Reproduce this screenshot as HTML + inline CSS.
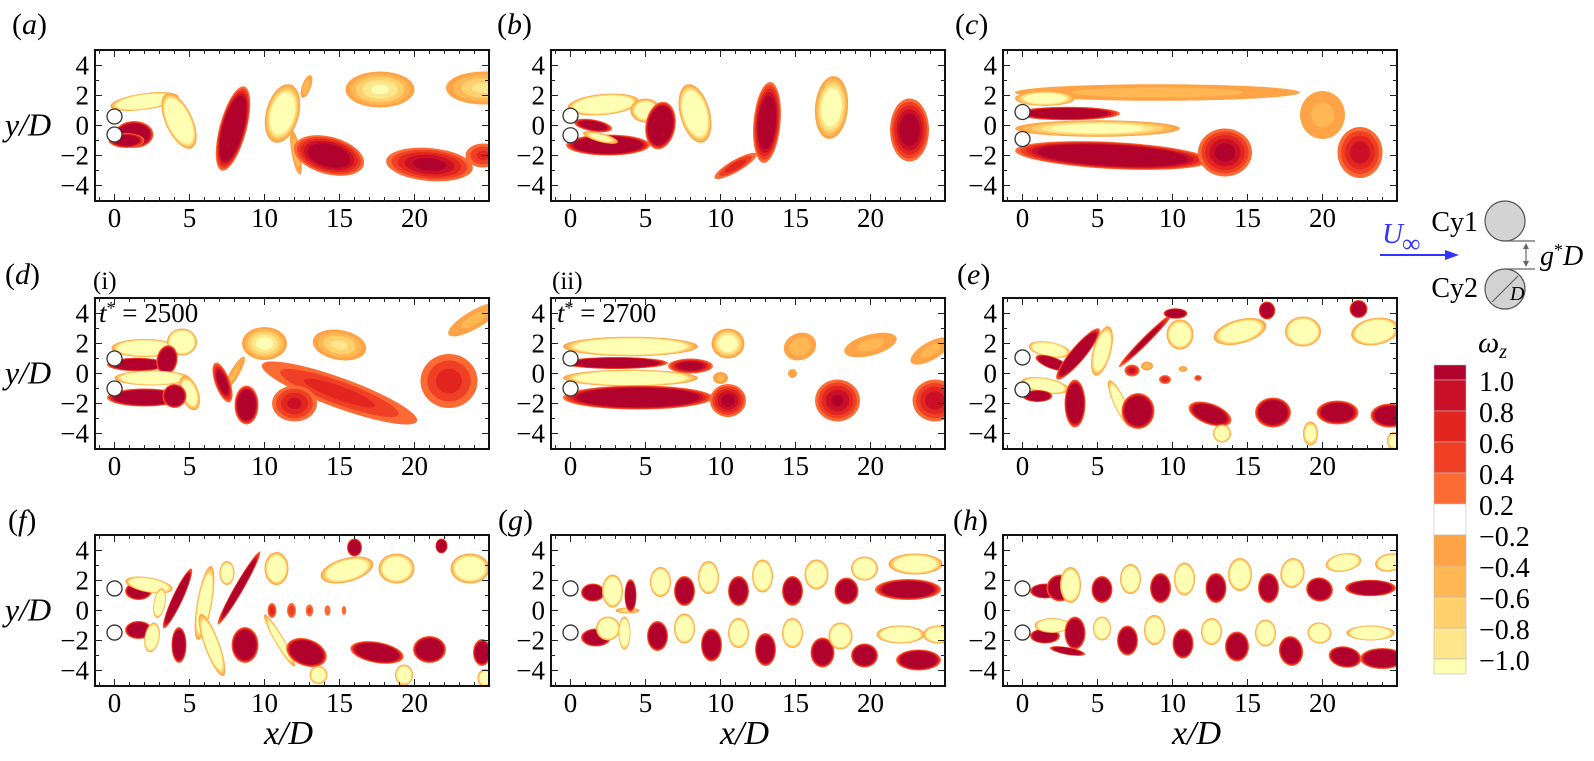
<!DOCTYPE html>
<html><head><meta charset="utf-8"><style>
html,body{margin:0;padding:0;background:#fff;}
svg, svg text{font-family:"Liberation Serif","DejaVu Serif",serif;}
</style></head><body>
<svg id="fig" width="1594" height="756" viewBox="0 0 1594 756" font-family="Liberation Serif, DejaVu Serif, serif" xmlns="http://www.w3.org/2000/svg"></svg>
<script>
// ---- data: vortices [x/D, y/D, rx, ry, angleDeg, peak vorticity] ----
const vortA=[[2.0,1.6,2.3,0.55,8,-3],[4.3,0.3,0.9,2.0,25,-3],[1.3,-0.6,1.3,0.9,0,3],[0.8,-1.0,1.2,0.5,0,2],
[7.9,-0.2,0.9,2.9,-15,2.5],[11.2,0.8,1.1,2.0,-15,-2],[12.1,-1.8,0.3,1.5,10,-0.6],[12.8,2.6,0.3,0.8,-20,-0.6],
[14.3,-2.0,2.4,1.25,-15,1.6],[21,-2.6,2.9,1.1,-5,1.2],[24.6,-2.0,1.2,0.8,0,0.7],[17.7,2.4,2.3,1.2,0,-1.1],[24.6,2.5,2.5,1.1,0,-0.9]];
const vortB=[[2.2,1.4,2.4,0.7,5,-3],[5,1.0,1.0,0.8,0,-2],[8.3,0.8,1.0,2.0,15,-2.5],[2.5,-1.3,2.8,0.7,0,3],
[6,0,1.0,1.6,-10,3],[1.5,0,1.3,0.4,-10,2],[2,-0.8,1.2,0.3,-15,-1.5],[13.1,0.2,0.9,2.7,-5,1.8],[11,-2.7,1.6,0.4,30,0.8],
[17.4,1.2,1.1,2.1,-5,-1.6],[22.6,-0.3,1.3,2.1,0,1.4]];
const vortC=[[9,2.2,9.5,0.55,0,-0.55],[20,0.7,1.5,1.6,0,-0.5],[1.5,1.8,2,0.5,0,-2],[3,0.8,3.5,0.45,0,2.5],
[5,-0.2,5.5,0.55,0,-1.5],[6,-2.0,6.5,0.9,-3,2.5],[13.5,-1.8,1.8,1.6,0,1.2],[22.5,-1.8,1.5,1.7,0,1.0]];
const vortDi=[[2,1.7,2.2,0.6,0,-3],[4.5,2.1,1.0,0.9,0,-3],[1.5,0.6,2.0,0.45,0,3],[3.5,0.9,0.7,1.0,-10,3],
[2.5,-0.3,2.5,0.5,0,-3],[5,-1.3,0.6,1.2,20,-2],[2,-1.6,2.5,0.6,0,3],[4,-1.5,0.8,0.8,0,3],
[10,2.0,1.5,1.1,0,-1.2],[8,0,0.3,1.3,-30,-0.5],[15,1.9,1.8,1.0,-10,-0.9],[7.2,-0.6,0.5,1.4,20,1.5],
[15,-1.3,5.5,1.0,-20,0.75],[12,-2,1.5,1.2,0,0.9],[8.8,-2.1,0.8,1.3,0,2.5],[22.3,-0.5,1.9,1.8,0,0.75],[24,3.6,2,0.6,30,-0.5]];
const vortDii=[[4,1.8,4.5,0.65,0,-3],[10.5,2,1.1,1.0,0,-1.5],[3,0.7,3.5,0.4,0,3],[8,0.5,1.5,0.5,0,1.5],
[4,-0.3,4.5,0.55,0,-3],[4.5,-1.6,5,0.8,0,3],[10.5,-1.8,1.2,1.1,0,1.2],[10,-0.3,0.5,0.4,0,-0.5],[14.8,0,0.3,0.3,0,-0.4],
[15.3,1.8,1.1,0.9,20,-0.6],[20,1.9,1.8,0.7,15,-0.5],[17.8,-1.8,1.5,1.4,0,1.1],[24.3,-1.8,1.5,1.4,0,1.0],[24,1.5,1.5,0.6,30,-0.5]];
const vortE=[[1.8,1.6,1.4,0.5,-10,-3],[2,0.7,1.2,0.4,-20,3],[3.7,1.3,0.5,2.2,-40,3],[1.5,-0.8,1.6,0.5,-10,-3],
[1,-1.5,1,0.4,0,3],[3.5,-2.0,0.7,1.6,0,3],[5.3,1.5,0.6,1.7,-15,-2.5],[6.5,-2,0.4,1.7,25,-2.5],[8.2,2.2,0.25,2.5,-45,1.5],
[10.2,4,0.8,0.35,0,3],[10.5,2.6,0.9,1.0,0,-2.5],[7.7,-2.5,1.1,1.2,0,3],[7.3,0.2,0.5,0.4,0,1],[8.3,0.5,0.4,0.3,0,-0.6],
[9.5,-0.4,0.4,0.3,0,0.8],[10.7,0.3,0.3,0.2,0,-0.5],[11.7,-0.3,0.25,0.2,0,0.6],[12.5,-2.7,1.5,0.7,-20,2.5],
[13.3,-4.0,0.6,0.6,0,-2.5],[16.7,-2.6,1.2,1.0,0,2.8],[19.2,-4.0,0.5,0.8,0,-2],[21,-2.6,1.4,0.8,0,2.5],[24.5,-2.8,1.3,0.8,0,2.5],
[24.8,-4.5,0.5,0.6,0,-2],[16.3,4.2,0.55,0.6,0,3],[14.5,2.8,1.8,0.8,15,-2.5],[18.7,2.8,1.2,1.0,0,-3],[22.4,4.3,0.6,0.6,0,3],[23.5,2.8,1.6,0.9,10,-3]];
const vortF=[[1.6,1.3,0.9,0.6,0,3],[2.3,1.7,1.6,0.5,-10,-3],[3,0.5,0.4,1.0,-10,-3],[4.2,0.8,0.35,2.2,-25,3],
[6,0.5,0.5,2.5,-10,-2.5],[7.5,2.5,0.5,0.8,0,-2.5],[8.3,1.5,0.3,2.8,-30,2.5],[10.8,2.8,0.8,1.1,0,-2.5],
[1.6,-1.3,0.9,0.6,0,3],[2.5,-1.8,0.5,1.0,-10,-3],[4.3,-2.3,0.5,1.2,0,3],[6.5,-2.3,0.5,2.2,20,-2.5],[8.7,-2.3,0.9,1.2,0,3],
[10.5,0,0.3,0.5,0,0.8],[11.8,0,0.3,0.5,0,0.6],[13,0,0.25,0.4,0,0.5],[14.2,0,0.2,0.35,0,0.4],[15.3,0,0.15,0.3,0,0.3],
[11,-2,0.3,2,30,-2],[12.8,-2.8,1.4,0.9,-20,3],[13.6,-4.3,0.6,0.6,0,-2.5],[17.5,-2.8,1.8,0.7,-10,3],[21,-2.6,1.1,0.9,0,3],
[19.3,-4.3,0.6,0.7,0,-2.5],[24.5,-2.8,0.6,0.9,0,2.5],[24.7,-4.5,0.5,0.6,0,-2],[16,4.2,0.5,0.6,0,3],[15.5,2.7,1.8,0.8,15,-2.5],
[18.8,2.8,1.2,1,0,-2.5],[21.8,4.3,0.4,0.5,0,3],[23.7,2.8,1.3,1.0,0,-2.5]];
const vortG=[[1.5,1.2,0.8,0.6,0,3],[2.8,1.3,0.7,1.1,0,-3],[1.7,-1.8,1,0.6,0,3],[2.5,-1.2,0.8,0.8,0,-3],[3.8,0,0.8,0.2,0,-1],
[4.0,1.0,0.4,1.1,0,3],[6,1.9,0.7,1.0,0,-3],[7.6,1.3,0.7,1.0,0,3],[9.2,2.2,0.7,1.1,0,-3],[11.2,1.3,0.7,1.0,0,3],
[12.8,2.3,0.7,1.1,0,-3],[14.8,1.3,0.7,1.0,0,3],[16.4,2.4,0.8,1.0,0,-3],[18.4,1.3,0.8,0.9,0,3],[19.6,2.8,0.9,0.8,0,-3],
[22.5,1.4,2.2,0.7,0,2.5],[23,3.1,1.8,0.7,0,-2.5],
[3.6,-1.5,0.4,1.1,0,-3],[5.8,-1.7,0.7,1.0,0,3],[7.6,-1.2,0.7,1.0,0,-3],[9.4,-2.3,0.7,1.1,0,3],[11.2,-1.5,0.7,1.0,0,-3],
[13,-2.6,0.7,1.1,0,3],[14.8,-1.5,0.7,1.0,0,-3],[16.8,-2.8,0.8,1.0,0,3],[18,-1.7,0.8,0.9,0,-3],[19.6,-3.0,0.9,0.8,0,3],
[22,-1.6,1.6,0.6,0,-3],[23.2,-3.3,1.5,0.7,0,3],[24.5,-1.6,1,0.6,0,-2.5]];
const vortH=[[1.5,1.3,1,0.5,0,3],[2.5,1.5,0.9,0.9,0,3],[3.2,1.7,0.7,1.2,0,-3],[5.3,1.4,0.7,0.9,0,3],[7.2,2.1,0.7,1.0,0,-3],
[9.2,1.5,0.7,1.0,0,3],[10.8,2.1,0.7,1.1,0,-3],[12.9,1.5,0.7,1.0,0,3],[14.5,2.4,0.8,1.1,0,-3],[16.4,1.5,0.7,1,0,3],
[18,2.5,0.8,1.0,-10,-3],[19.8,1.4,0.9,0.8,-15,3],[21.4,3.2,1.2,0.6,10,-3],[23.2,1.5,1.7,0.55,0,3],[24.5,3.2,1,0.6,10,-2.5],
[1.5,-1.7,1,0.5,0,3],[2,-1,1.2,0.5,0,-3],[3.5,-1.5,0.7,1.1,0,3],[3,-2.7,1.2,0.25,-10,2.5],[5.3,-1.2,0.6,0.8,0,-3],
[7,-2,0.7,1.0,0,3],[8.8,-1.3,0.7,1.0,0,-3],[10.7,-2.2,0.7,1.0,0,3],[12.6,-1.4,0.7,0.9,0,-3],[14.3,-2.4,0.8,1.0,0,3],
[16.2,-1.5,0.7,0.9,0,-3],[17.9,-2.7,0.8,1.0,10,3],[19.8,-1.5,0.8,0.7,-10,-3],[21.5,-3.1,1.1,0.7,-10,3],[23.2,-1.5,1.6,0.5,0,-3],[24,-3.2,1.5,0.7,0,3]];
const cylGap=[0.6,0.65,0.9,1.0,1.0,1.07,1.47,1.47,1.47];
const xTicks=[0,5,10,15,20];
const yTicks=[4,2,0,-2,-4];
const cbLevels=[1.0,0.8,0.6,0.4,0.2,-0.2,-0.4,-0.6,-0.8,-1.0];
const levels=[0.2,0.4,0.6,0.8,1.0];
const posCol=['#fc6b33','#ef4025','#e32520','#c91028','#b0022d'];
const negCol=['#fea446','#feb752','#fed06e','#fee68c','#ffffb3'];

const NS='http://www.w3.org/2000/svg';
const svg=document.getElementById('fig');
const FF='Liberation Serif, DejaVu Serif, serif';
function mk(tag,attrs,parent){const e=document.createElementNS(NS,tag);for(const k in attrs)e.setAttribute(k,attrs[k]);if(tag==='text')e.setAttribute('font-family',FF);(parent||svg).appendChild(e);return e;}
const PX=15, W=394, H=151;
const lefts=[95,551,1003], tops=[50,298,535];
const panels=[
 {n:'a',c:0,r:0,v:vortA},{n:'b',c:1,r:0,v:vortB},{n:'c',c:2,r:0,v:vortC},
 {n:'d-i',c:0,r:1,v:vortDi},{n:'d-ii',c:1,r:1,v:vortDii},{n:'e',c:2,r:1,v:vortE},
 {n:'f',c:0,r:2,v:vortF},{n:'g',c:1,r:2,v:vortG},{n:'h',c:2,r:2,v:vortH}];
const defs=mk('defs',{});
panels.forEach((p,pi)=>{
  const L=lefts[p.c],T=tops[p.r],x0=L+19.5,y0=T+75.5;
  const sx=x=>x0+x*PX, sy=y=>y0-y*PX;
  const cp=mk('clipPath',{id:'clip'+pi},defs);
  mk('rect',{x:L,y:T,width:W,height:H},cp);
  const g=mk('g',{'clip-path':'url(#clip'+pi+')'});
  
  
  p.v.forEach((v,vi)=>{
    const [x,y,rx,ry,ang,pk]=v;const a=Math.abs(pk);const cols=pk>0?posCol:negCol;
    const vg=mk('g',{transform:'translate('+sx(x)+','+sy(y)+') rotate('+(-ang)+')'},g);
    
    
    levels.forEach((t,k)=>{
      if(a<=t)return;
      const s=Math.pow((1-t/a)/(1-0.2/a),0.6);
      mk('ellipse',{cx:0,cy:0,rx:rx*PX*s,ry:ry*PX*s,fill:cols[k]},vg);
    });
  });
  const gap=cylGap[pi];
  [gap,-gap].forEach((cy,ci)=>{
    const c=mk('circle',{cx:sx(0),cy:sy(cy),r:7.5,fill:'#fff',stroke:'#333','stroke-width':1.3});
    
    
  });
  const fr=mk('rect',{x:L,y:T,width:W,height:H,fill:'none',stroke:'#111','stroke-width':2});
  
  
  let d='';
  for(let xi=-1;xi<=25;xi++){const X=sx(xi);if(X<=L||X>=L+W)continue;const len=xi%5===0?7:4;
    d+='M'+X+','+(T+H)+'v'+(-len)+'M'+X+','+T+'v'+len;}
  for(let yi=-5;yi<=5;yi++){const Y=sy(yi);if(Y<=T+0.5||Y>=T+H-0.5)continue;const len=yi%2===0?7:4;
    d+='M'+L+','+Y+'h'+len+'M'+(L+W)+','+Y+'h'+(-len);}
  const tk=mk('path',{d:d,stroke:'#222','stroke-width':1,fill:'none'});
  
  
  xTicks.forEach(v=>{const t=mk('text',{x:sx(v),y:T+H+26,'text-anchor':'middle','font-size':27});t.textContent=String(v);
    });
  yTicks.forEach(v=>{const t=mk('text',{x:L-6,y:sy(v)+9,'text-anchor':'end','font-size':27});t.textContent=v<0?'\u2212'+(-v):String(v);
    });
  if(p.c===0){const t=mk('text',{x:28,y:y0+10,'text-anchor':'middle','font-size':32,'font-style':'italic'});t.textContent='y/D';
    }
  if(p.r===2){const t=mk('text',{x:sx(11.6),y:744,'text-anchor':'middle','font-size':34,'font-style':'italic'});t.textContent='x/D';
    }
});
const letters=[['a',12,34],['b',497,34],['c',955,34],['d',5,284],['e',957,284],['f',8,530],['g',498,530],['h',953,530]];
letters.forEach(l=>{const t=mk('text',{x:l[1],y:l[2],'font-size':30});
  t.innerHTML='(<tspan font-style="italic">'+l[0]+'</tspan>)';
  });
[['(i)',93,289],['(ii)',552,289]].forEach(l=>{const t=mk('text',{x:l[1],y:l[2],'font-size':25});t.textContent=l[0];
  });
[['2500',99],['2700',557]].forEach(l=>{const t=mk('text',{x:l[1],y:322,'font-size':27});
  t.innerHTML='<tspan font-style="italic">t</tspan><tspan dy="-8" font-size="18">*</tspan><tspan dy="8"> = '+l[0]+'</tspan>';
  });
const sg=mk('g',{});
mk('circle',{cx:1505,cy:221,r:20,fill:'#d3d3d3',stroke:'#555','stroke-width':1.2},sg);
mk('circle',{cx:1505,cy:289,r:20,fill:'#d3d3d3',stroke:'#555','stroke-width':1.2},sg);
mk('path',{d:'M1505,241H1535M1505,269H1535M1526,244V266',stroke:'#666','stroke-width':1.2,fill:'none'},sg);
mk('path',{d:'M1526,243l-3,6h6zM1526,267l-3,-6h6z',fill:'#666'},sg);
mk('path',{d:'M1492,302L1518,276',stroke:'#666','stroke-width':1.2},sg);
mk('text',{x:1478,y:231,'text-anchor':'end','font-size':28},sg).textContent='Cy1';
mk('text',{x:1478,y:297,'text-anchor':'end','font-size':28},sg).textContent='Cy2';
mk('text',{x:1510,y:300,'font-size':20,'font-style':'italic'},sg).textContent='D';
mk('text',{x:1540,y:265,'font-size':28,'font-style':'italic'},sg).innerHTML='g<tspan dy="-9" font-size="18" font-style="normal">*</tspan><tspan dy="9">D</tspan>';
mk('line',{x1:1380,y1:255,x2:1447,y2:255,stroke:'#3333ff','stroke-width':2},sg);
mk('path',{d:'M1459,255l-14,-5v10z',fill:'#3333ff'},sg);
mk('text',{x:1382,y:243,'font-size':29,'font-style':'italic',fill:'#3333ff'},sg).textContent='U';
mk('text',{x:1402,y:252,'font-size':26,fill:'#3333ff'},sg).textContent='\u221e';
const cb=mk('g',{});
const cbCols=['#b0022d','#c91028','#e32520','#ef4025','#fc6b33','#ffffff','#fea446','#feb752','#fed06e','#fee68c','#ffffb3'];
const cbTop=365,step=31,half=15;
let yy=cbTop;
cbCols.forEach((c,i)=>{const h=(i===0||i===10)?half:step;mk('rect',{x:1434,y:yy,width:32,height:h,fill:c,stroke:'#bbb','stroke-width':0.6},cb);yy+=h;});
cbLevels.forEach((v,i)=>{const y=cbTop+half+i*step;const t=mk('text',{x:1479,y:y+11,'font-size':28},cb);
  t.textContent=v<0?'\u2212'+(-v).toFixed(1):v.toFixed(1);});
mk('text',{x:1478,y:352,'font-size':30,'font-style':'italic'},cb).innerHTML='\u03c9<tspan dy="6" font-size="20">z</tspan>';
</script>
</body></html>
